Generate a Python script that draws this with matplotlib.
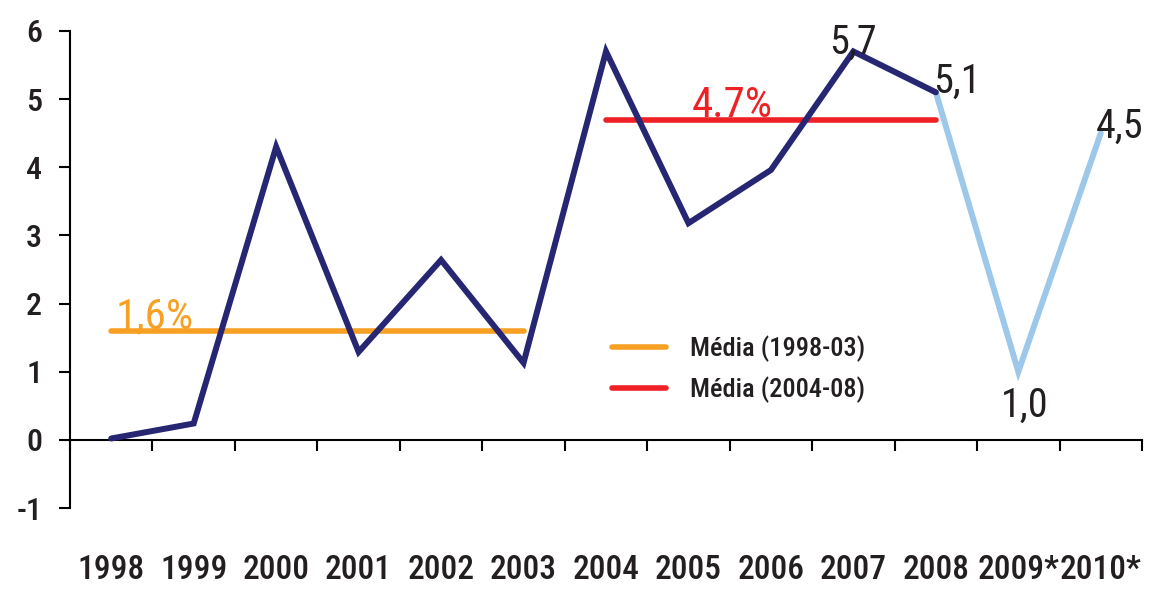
import matplotlib
matplotlib.use("Agg")
import matplotlib.pyplot as plt
from matplotlib.lines import Line2D
from matplotlib import font_manager

years = ["1998", "1999", "2000", "2001", "2002", "2003", "2004", "2005",
         "2006", "2007", "2008", "2009*", "2010*"]
actual = [0.02, 0.24, 4.3, 1.29, 2.64, 1.13, 5.7, 3.18, 3.96, 5.7, 5.1]
forecast = [5.1, 1.0, 4.5]
avg_1998_03 = 1.6
avg_2004_08 = 4.7
avg1_label = "1,6%"
avg2_label = "4.7%"
point_labels = ["5,7", "5,1", "1,0", "4,5"]
yticks = [-1, 0, 1, 2, 3, 4, 5, 6]

# pick a condensed font if one is installed
entries = font_manager.fontManager.ttflist
names = {f.name for f in entries}
chosen = None
for pref in ["Liberation Sans Narrow", "Roboto Condensed", "Open Sans Condensed",
             "Noto Sans Condensed", "DejaVu Sans Condensed"]:
    if pref in names:
        chosen = pref
        break
if chosen is None:
    for f in entries:
        if "Narrow" in f.name or "Condensed" in f.name:
            chosen = f.name
            break
if chosen is None:
    chosen = "DejaVu Sans"
fam = [chosen, "DejaVu Sans"]
plt.rcParams["font.family"] = fam
plt.rcParams["font.stretch"] = "condensed"

NAVY = "#262673"
LIGHT = "#9DC8EA"
ORANGE = "#F7A023"
RED = "#EE2024"
TXT = "#231F20"

fig = plt.figure(figsize=(11.52, 5.97), dpi=100)
ax = fig.add_axes([70/1152, 1-508/597, 1072/1152, 477/597])
ax.set_xlim(-0.5, 12.5)
ax.set_ylim(-1, 6)

x_act = list(range(len(actual)))
x_fc = list(range(len(actual)-1, len(actual)-1+len(forecast)))

ax.plot([0, 5], [avg_1998_03]*2, color=ORANGE, lw=4, solid_capstyle="round", zorder=2)
ax.plot([6, 10], [avg_2004_08]*2, color=RED, lw=4, solid_capstyle="round", zorder=2)
ax.plot(x_fc, forecast, color=LIGHT, lw=4.3, solid_capstyle="round", solid_joinstyle="miter", zorder=3)
ax.plot(x_act, actual, color=NAVY, lw=4.3, solid_capstyle="round", solid_joinstyle="miter", zorder=4)

ax.text(0.05, avg_1998_03 + 0.04, avg1_label, color=ORANGE, fontsize=31, ha="left", va="baseline")
ax.text(7.53, avg_2004_08 + 0.04, avg2_label, color=RED, fontsize=31, ha="center", va="baseline")

# data labels: (x, baseline y offset relative to value)
lab_x = [9.0, 10.26, 11.08, 12.23]
lab_val = [actual[9], actual[10], forecast[1], forecast[2]]
lab_dy = [-0.03, -0.01, -0.66, -0.06]
for lx, lv, dy, txt in zip(lab_x, lab_val, lab_dy, point_labels):
    ax.text(lx, lv + dy, txt, color=TXT, fontsize=29, ha="center", va="baseline", zorder=5)

for s in ["top", "right"]:
    ax.spines[s].set_visible(False)
ax.spines["bottom"].set_position(("data", 0))
ax.spines["left"].set_linewidth(1.5)
ax.spines["bottom"].set_linewidth(1.5)
ax.set_xticks([i - 0.5 for i in range(len(years) + 1)])
ax.set_xticklabels([])
ax.tick_params(axis="x", direction="out", length=8, width=1.5)
ax.set_yticks(yticks)
ax.set_yticklabels([str(v) for v in yticks], fontsize=23, color=TXT, fontweight="medium")
ax.tick_params(axis="y", direction="out", length=8, width=1.5, pad=12)

trans = ax.get_xaxis_transform()
for i, y in enumerate(years):
    ax.text(i, -0.13, y, transform=trans, ha="center", va="center",
            fontsize=24, color=TXT, fontweight="medium")

handles = [Line2D([], [], color=ORANGE, lw=4, solid_capstyle="round"),
           Line2D([], [], color=RED, lw=4, solid_capstyle="round")]
leg = ax.legend(handles, ["Média (1998-03)", "Média (2004-08)"], frameon=False,
                loc="upper left", bbox_to_anchor=(0.5056, 0.3625), handlelength=2.05,
                handletextpad=0.9, labelspacing=0.57, borderpad=0, borderaxespad=0,
                prop={"size": 19, "weight": "medium", "family": fam, "stretch": "condensed"})
for t in leg.get_texts():
    t.set_color(TXT)

fig.savefig("out.png", dpi=100)
